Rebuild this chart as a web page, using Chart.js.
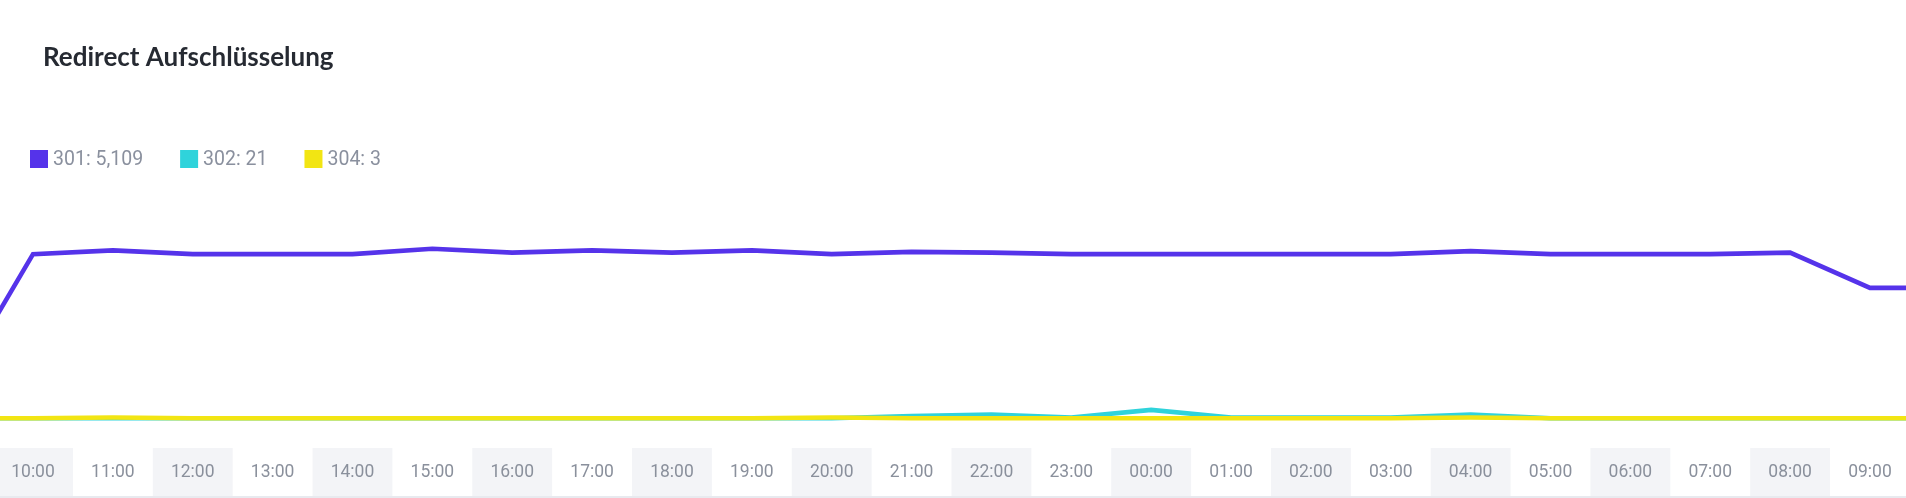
<!DOCTYPE html>
<html>
<head>
<meta charset="utf-8">
<script src="https://cdn.jsdelivr.net/npm/chart.js@4.4.1/dist/chart.umd.min.js"></script>
<style>
  html, body { margin: 0; padding: 0; background: #ffffff; }
  #wrap { position: relative; width: 1906px; height: 498px; }
  canvas { display: block; }
</style>
</head>
<body>
<div id="wrap"><canvas id="c"></canvas></div>
<script>
// ---- data ----
const TITLE = 'Redirect Aufschlüsselung';
const HOURS = ['10:00','11:00','12:00','13:00','14:00','15:00','16:00','17:00','18:00','19:00','20:00','21:00',
               '22:00','23:00','00:00','01:00','02:00','03:00','04:00','05:00','06:00','07:00','08:00','09:00'];
const SERIES_NAMES = ['301', '302', '304'];
const SERIES_TOTALS = ['5,109', '21', '3'];
const S301 = [214,219,214,214,214,221,216,219,216,219,214,217,216,214,214,214,214,214,218,214,214,214,216,170];
const S302 = [0,0,0,0,0,0,0,0,0,0,0,3,5,1,11,1,1,1,5,0,0,0,0,0];
const S304 = [0,1,0,0,0,0,0,0,0,0,1,0,0,0,0,0,0,0,1,0,0,0,0,0];
// hours just outside the visible window (previous 09:00, next 10:00)
const EDGE_BEFORE = [37, 0, 0];
const EDGE_AFTER = [170, 0, 0];

// ---- styles ----
const COLORS = ['#5533ea', '#2fd3db', '#f2e513'];

function series(values, k) {
  const pts = [{x: -1, y: EDGE_BEFORE[k]}];
  values.forEach((v, i) => pts.push({x: i, y: v}));
  pts.push({x: values.length, y: EDGE_AFTER[k]});
  return pts;
}

const deco = {
  id: 'deco',
  beforeDraw(chart) {
    const {ctx} = chart;
    const xs = chart.scales.x;
    ctx.save();
    ctx.fillStyle = '#f3f4f7';
    HOURS.forEach((h, i) => {
      if (i % 2) return;
      const l = xs.getPixelForValue(i - 0.5);
      const r = xs.getPixelForValue(i + 0.5);
      ctx.fillRect(l, 448, r - l, 48);
    });
    ctx.fillStyle = '#e8eaef';
    ctx.fillRect(0, 496, chart.width, 2);
    ctx.restore();
  },
  afterDraw(chart) {
    const {ctx} = chart;
    ctx.save();
    // title
    ctx.font = '700 26px Lato';
    ctx.fillStyle = '#262a32';
    ctx.textBaseline = 'alphabetic';
    ctx.textAlign = 'left';
    ctx.fillText(TITLE, 43, 66);
    // legend
    ctx.font = '400 19.5px Roboto';
    ctx.textBaseline = 'middle';
    let x = 30;
    SERIES_NAMES.forEach((name, i) => {
      const text = name + ': ' + SERIES_TOTALS[i];
      ctx.fillStyle = COLORS[i];
      ctx.fillRect(x, 150, 18, 18);
      ctx.fillStyle = '#8a909e';
      ctx.fillText(text, x + 23, 160);
      x += 23 + ctx.measureText(text).width + 37;
    });
    ctx.restore();
  }
};

new Chart(document.getElementById('c'), {
  type: 'line',
  data: {
    datasets: [
      {label: SERIES_NAMES[0], data: series(S301, 0), borderColor: COLORS[0], backgroundColor: COLORS[0], order: 0},
      {label: SERIES_NAMES[1], data: series(S302, 1), borderColor: COLORS[1], backgroundColor: COLORS[1], order: 2},
      {label: SERIES_NAMES[2], data: series(S304, 2), borderColor: COLORS[2], backgroundColor: COLORS[2], order: 1}
    ]
  },
  options: {
    responsive: true,
    maintainAspectRatio: false,
    animation: false,
    events: [],
    layout: {padding: {top: 179, left: 0, right: 0, bottom: 0}},
    elements: {
      line: {borderWidth: 4.6, tension: 0, fill: false},
      point: {radius: 0, hoverRadius: 0}
    },
    datasets: {line: {clip: false}},
    plugins: {legend: {display: false}, title: {display: false}, tooltip: {enabled: false}},
    scales: {
      x: {
        type: 'linear',
        min: -0.4132,
        max: 23.451,
        grid: {display: false, drawTicks: false},
        border: {display: false},
        afterBuildTicks: (s) => { s.ticks = HOURS.map((h, i) => ({value: i})); },
        afterFit: (s) => { s.height = 79.7; s.paddingLeft = 0; s.paddingRight = 0; },
        ticks: {
          autoSkip: false,
          maxRotation: 0,
          padding: 44,
          color: '#8a909c',
          font: {family: 'Roboto', size: 17.5},
          callback: (v) => HOURS[v]
        }
      },
      y: {
        display: false,
        min: 0,
        max: 312
      }
    }
  },
  plugins: [deco]
});
</script>
</body>
</html>
